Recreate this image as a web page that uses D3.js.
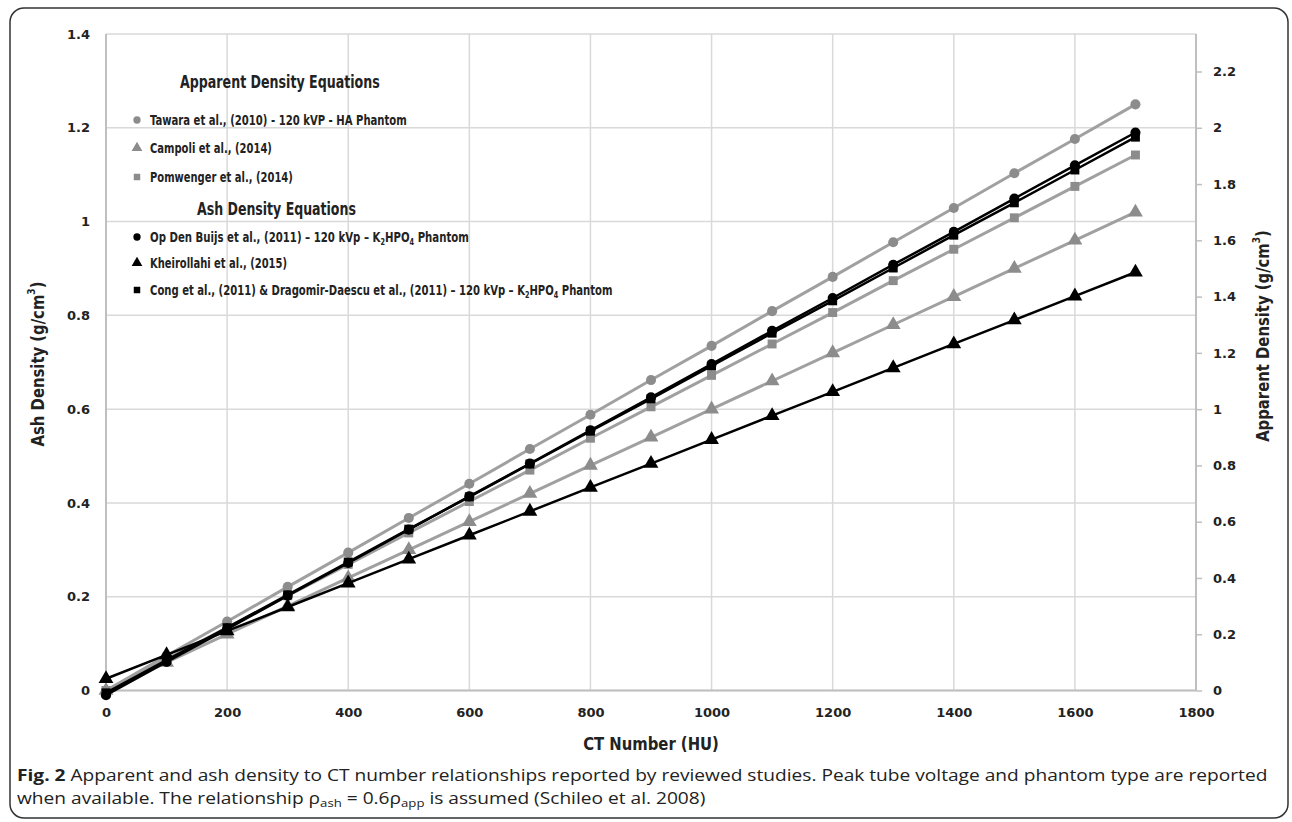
<!DOCTYPE html>
<html>
<head>
<meta charset="utf-8">
<script src="https://cdn.jsdelivr.net/npm/d3@7"></script>
<style>
  body { margin: 0; background: #fff; }
  svg { display: block; }
</style>
</head>
<body>
<div class="chart"></div>
<script>
// data ============================================================ //

var ctNumber = [0, 100, 200, 300, 400, 500, 600, 700, 800, 900, 1000, 1100, 1200, 1300, 1400, 1500, 1600, 1700];

// ash density, g/cm3 (left axis)
var tawara = [0, 0.074, 0.147, 0.221, 0.294, 0.368, 0.441, 0.515, 0.588, 0.662, 0.735, 0.809, 0.882, 0.956, 1.029, 1.103, 1.176, 1.250];
var campoli = [0, 0.060, 0.120, 0.180, 0.240, 0.300, 0.360, 0.420, 0.480, 0.540, 0.600, 0.660, 0.720, 0.780, 0.840, 0.900, 0.960, 1.020];
var pomwenger = [0, 0.067, 0.134, 0.202, 0.269, 0.336, 0.403, 0.470, 0.538, 0.605, 0.672, 0.739, 0.806, 0.874, 0.941, 1.008, 1.075, 1.142];
var opDenBuijs = [-0.010, 0.061, 0.131, 0.202, 0.272, 0.343, 0.414, 0.484, 0.555, 0.625, 0.696, 0.767, 0.837, 0.908, 0.978, 1.049, 1.120, 1.190];
var kheirollahi = [0.025, 0.076, 0.127, 0.178, 0.229, 0.280, 0.331, 0.382, 0.433, 0.484, 0.535, 0.586, 0.637, 0.688, 0.739, 0.790, 0.841, 0.892];
var congDragomir = [-0.005, 0.065, 0.134, 0.204, 0.274, 0.344, 0.413, 0.483, 0.553, 0.622, 0.692, 0.762, 0.831, 0.901, 0.971, 1.040, 1.110, 1.180];

var xTicks = [0, 200, 400, 600, 800, 1000, 1200, 1400, 1600, 1800];
var ashTicks = [0, 0.2, 0.4, 0.6, 0.8, 1, 1.2, 1.4];
var appTicks = [0, 0.2, 0.4, 0.6, 0.8, 1, 1.2, 1.4, 1.6, 1.8, 2, 2.2];

var GREY = "#8c8c8c";
var GREY_LINE = "#a0a0a0";
var BLACK = "#000000";

var series = [
  { name: "Tawara et al., (2010) - 120 kVP - HA Phantom", values: tawara, color: GREY, line: GREY_LINE, symbol: d3.symbolCircle },
  { name: "Campoli et al., (2014)", values: campoli, color: GREY, line: GREY_LINE, symbol: d3.symbolTriangle },
  { name: "Pomwenger et al., (2014)", values: pomwenger, color: GREY, line: GREY_LINE, symbol: d3.symbolSquare },
  { name: "Op Den Buijs et al., (2011) – 120 kVp – K|2|HPO|4| Phantom", values: opDenBuijs, color: BLACK, line: BLACK, symbol: d3.symbolCircle },
  { name: "Kheirollahi et al., (2015)", values: kheirollahi, color: BLACK, line: BLACK, symbol: d3.symbolTriangle },
  { name: "Cong et al., (2011) & Dragomir-Daescu et al., (2011) – 120 kVp – K|2|HPO|4| Phantom", values: congDragomir, color: BLACK, line: BLACK, symbol: d3.symbolSquare }
];

// drawing ========================================================= //

var W = 1292, H = 822;
var plot = { left: 106, right: 1196, top: 34, bottom: 690.5 };
var NARROW = "'Liberation Sans Narrow', 'DejaVu Sans Condensed', 'Arial Narrow', sans-serif";
var TICKFONT = "'DejaVu Sans', Verdana, sans-serif";
var CAPFONT = "'Open Sans', 'Noto Sans', sans-serif";

var svg = d3.select(".chart").append("svg").attr("width", W).attr("height", H);

// squeeze a text horizontally so it takes the width seen in the figure
function fitWidth(t, x0, y0, target) {
  var w = t.node().getComputedTextLength();
  var sx = target / w;
  t.attr("transform", "translate(" + x0 + "," + y0 + ") scale(" + sx + ",1)");
  return sx;
}

// frame
svg.append("rect")
  .attr("x", 10).attr("y", 8)
  .attr("width", 1278).attr("height", 810)
  .attr("rx", 14)
  .attr("fill", "none")
  .attr("stroke", "#333")
  .attr("stroke-width", 1.5);

var x = d3.scaleLinear().domain([0, 1800]).range([plot.left, plot.right]);
var y = d3.scaleLinear().domain([0, 1.4]).range([plot.bottom, plot.top]);
var yApp = d3.scaleLinear().domain([0, 1.4 / 0.6]).range([plot.bottom, plot.top]);

// gridlines
var grid = svg.append("g").attr("id", "grid");
grid.selectAll("line.h").data(ashTicks).enter().append("line")
  .attr("x1", plot.left).attr("x2", plot.right)
  .attr("y1", function (d) { return y(d); })
  .attr("y2", function (d) { return y(d); })
  .attr("stroke", "#d9d9d9").attr("stroke-width", 1.5);
grid.selectAll("line.v").data(xTicks).enter().append("line")
  .attr("x1", function (d) { return x(d); })
  .attr("x2", function (d) { return x(d); })
  .attr("y1", plot.top).attr("y2", plot.bottom)
  .attr("stroke", "#d9d9d9").attr("stroke-width", 1.5);

// axis lines
svg.append("line").attr("x1", plot.left).attr("x2", plot.left).attr("y1", plot.top).attr("y2", plot.bottom)
  .attr("stroke", "#bfbfbf").attr("stroke-width", 2);
svg.append("line").attr("x1", plot.right).attr("x2", plot.right).attr("y1", plot.top).attr("y2", plot.bottom)
  .attr("stroke", "#bfbfbf").attr("stroke-width", 2);
svg.append("line").attr("x1", plot.left).attr("x2", plot.right).attr("y1", plot.bottom).attr("y2", plot.bottom)
  .attr("stroke", "#bfbfbf").attr("stroke-width", 2);

function styleAxis(g) {
  g.select(".domain").remove();
  g.selectAll("text")
    .attr("font-family", TICKFONT)
    .attr("font-weight", "bold")
    .attr("font-size", 13)
    .attr("fill", "#222");
}

var fmt = function (d) { return d3.format("~g")(+d.toFixed(1)); };

svg.append("g")
  .attr("transform", "translate(" + plot.left + ",0)")
  .call(d3.axisLeft(y).tickValues(ashTicks).tickSize(0).tickPadding(16).tickFormat(fmt))
  .call(styleAxis);

svg.append("g")
  .attr("transform", "translate(" + plot.right + ",0)")
  .call(d3.axisRight(yApp).tickValues(appTicks).tickSize(6).tickPadding(11).tickFormat(fmt))
  .call(styleAxis)
  .call(function (g) { g.selectAll("line").attr("stroke", "#bfbfbf").attr("stroke-width", 1.5); });

svg.append("g")
  .attr("transform", "translate(0," + plot.bottom + ")")
  .call(d3.axisBottom(x).tickValues(xTicks).tickSize(0).tickPadding(17).tickFormat(d3.format("d")))
  .call(styleAxis);

// axis titles
function axisTitle() {
  return svg.append("text")
    .attr("text-anchor", "middle")
    .attr("dominant-baseline", "central")
    .attr("font-family", NARROW)
    .attr("font-weight", "bold")
    .attr("font-size", 18)
    .attr("fill", "#222");
}
function withCube(t, label) {
  t.append("tspan").text(label + " (g/cm");
  t.append("tspan").attr("font-size", 11).attr("dy", -7).text("3");
  t.append("tspan").attr("dy", 7).text(")");
}
var t1 = axisTitle();
withCube(t1, "Ash Density");
var tsx = t1.node().getComputedTextLength();
tsx = 165 / tsx;
t1.attr("transform", "translate(38,364) rotate(-90) scale(" + tsx + ",1)");

var t2 = axisTitle();
withCube(t2, "Apparent Density");
t2.attr("transform", "translate(1263,336) rotate(-90) scale(" + tsx + ",1)");

axisTitle().text("CT Number (HU)")
  .attr("transform", "translate(" + (plot.left + plot.right) / 2 + ",744) scale(" + tsx + ",1)");

// series
var line = d3.line()
  .x(function (d, i) { return x(ctNumber[i]); })
  .y(function (d) { return y(d); });

var lines = svg.append("g").attr("id", "series");
series.forEach(function (s) {
  var g = lines.append("g");
  g.append("path")
    .attr("d", line(s.values))
    .attr("fill", "none")
    .attr("stroke", s.line)
    .attr("stroke-width", s.color == BLACK ? 2.5 : 3);
  g.selectAll("path.pt").data(s.values).enter().append("path")
    .attr("class", "pt")
    .attr("transform", function (d, i) { return "translate(" + x(ctNumber[i]) + "," + y(d) + ")"; })
    .attr("d", d3.symbol().type(s.symbol).size(s.symbol == d3.symbolTriangle ? 95 : 80))
    .attr("fill", s.color);
});

// legend
var legend = svg.append("g").attr("id", "legend");
function legendTitle(text, x0, cy, w) {
  var t = legend.append("text")
    .attr("dominant-baseline", "central")
    .attr("font-family", NARROW)
    .attr("font-weight", "bold")
    .attr("font-size", 18)
    .attr("fill", "#222")
    .text(text);
  fitWidth(t, x0, cy, w);
}
legendTitle("Apparent Density Equations", 180, 82, 200);
legendTitle("Ash Density Equations", 197, 209, 159);

var legendY = [120, 148, 177, 237, 263, 290];
var legendW = [257, 122, 143, 319, 137, 463];
series.forEach(function (s, i) {
  var cy = legendY[i];
  legend.append("path")
    .attr("transform", "translate(137," + cy + ")")
    .attr("d", d3.symbol().type(s.symbol).size(s.symbol == d3.symbolTriangle ? 50 : 42))
    .attr("fill", s.color);
  var t = legend.append("text")
    .attr("x", 0).attr("y", 0)
    .attr("font-family", NARROW)
    .attr("font-weight", "bold")
    .attr("font-size", 14)
    .attr("fill", "#222");
  // "|" marks subscript pieces
  s.name.split("|").forEach(function (part, k) {
    if (k % 2 == 1) {
      t.append("tspan").attr("font-size", 9).attr("dy", 3).text(part);
    } else {
      t.append("tspan").attr("dy", k > 0 ? -3 : 0).text(part);
    }
  });
  fitWidth(t, 150, cy + 5, legendW[i]);
});

// caption
var cap = svg.append("g").attr("id", "caption");
var c1 = cap.append("text")
  .attr("font-family", CAPFONT)
  .attr("font-size", 16).attr("fill", "#222");
c1.append("tspan").attr("font-weight", "bold").text("Fig. 2");
c1.append("tspan").text(" Apparent and ash density to CT number relationships reported by reviewed studies. Peak tube voltage and phantom type are reported");

var c2 = cap.append("text")
  .attr("font-family", CAPFONT)
  .attr("font-size", 16).attr("fill", "#222");
c2.append("tspan").text("when available. The relationship ρ");
c2.append("tspan").attr("font-size", 11).attr("dy", 3).text("ash");
c2.append("tspan").attr("dy", -3).text(" = 0.6ρ");
c2.append("tspan").attr("font-size", 11).attr("dy", 3).text("app");
c2.append("tspan").attr("dy", -3).text(" is assumed (Schileo et al. 2008)");

var csx = fitWidth(c1, 17, 781, 1252);
c2.attr("transform", "translate(17,804) scale(" + csx + ",1)");
</script>
</body>
</html>
